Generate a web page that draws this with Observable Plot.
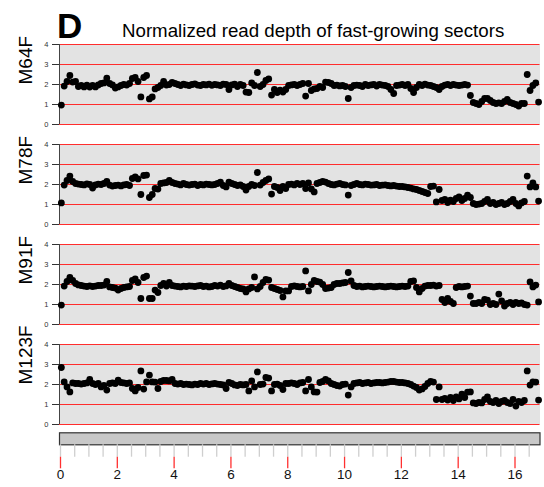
<!DOCTYPE html>
<html><head><meta charset="utf-8">
<script src="https://cdn.jsdelivr.net/npm/d3@7"></script>
<script src="https://cdn.jsdelivr.net/npm/@observablehq/plot@0.6"></script>
<style>
html,body{margin:0;padding:0;background:#fff;}
#wrap{position:relative;width:544px;height:487px;font-family:"Liberation Sans",Arial,Helvetica,sans-serif;}
#panel-letter{position:absolute;left:57px;top:8.3px;font-size:35px;font-weight:bold;line-height:1;color:#000;}
#title{position:absolute;left:122px;top:21.5px;font-size:18.7px;line-height:1;white-space:nowrap;color:#000;}
svg{display:block;}
</style></head><body>
<div id="wrap">
<div id="charts"></div>
<div id="panel-letter">D</div>
<div id="title">Normalized read depth of fast-growing sectors</div>
</div>
<script>
const samples = ["M64F", "M78F", "M91F", "M123F"];
const yTicks = [0, 1, 2, 3, 4];
const xDomain = [-0.035, 16.88];
const majorTicks = [0, 2, 4, 6, 8, 10, 12, 14, 16];
const minorTicks = [0,0.5,1,1.5,2,2.5,3,3.5,4,4.5,5,5.5,6,6.5,7,7.5,8,8.5,9,9.5,10,10.5,11,11.5,12,12.5,13,13.5,14,14.5,15,15.5,16,16.5];

const positions = [
0.03,0.13,0.23,0.33,0.43,0.53,0.63,0.73,0.83,0.93,
1.03,1.13,1.23,1.33,1.43,1.53,1.63,1.73,1.83,1.93,
2.03,2.13,2.23,2.33,2.43,2.53,2.63,2.73,2.83,2.93,
3.03,3.13,3.23,3.33,3.43,3.53,3.63,3.73,3.83,3.93,
4.03,4.13,4.23,4.33,4.43,4.53,4.63,4.73,4.83,4.93,
5.03,5.13,5.23,5.33,5.43,5.53,5.63,5.73,5.83,5.93,
6.03,6.13,6.23,6.33,6.43,6.53,6.63,6.73,6.83,6.93,
7.03,7.13,7.23,7.33,7.43,7.53,7.63,7.73,7.83,7.93,
8.03,8.13,8.23,8.33,8.43,8.53,8.63,8.73,8.83,8.93,
9.03,9.13,9.23,9.33,9.43,9.53,9.63,9.73,9.83,9.93,
10.03,10.13,10.23,10.33,10.43,10.53,10.63,10.73,10.83,10.93,
11.03,11.13,11.23,11.33,11.43,11.53,11.63,11.73,11.83,11.93,
12.03,12.13,12.23,12.33,12.43,12.53,12.63,12.73,12.83,12.93,
13.03,13.13,13.23,13.33,13.43,13.53,13.63,13.73,13.83,13.93,
14.03,14.13,14.23,14.33,14.43,14.53,14.63,14.73,14.83,14.93,
15.03,15.13,15.23,15.33,15.43,15.53,15.63,15.73,15.83,15.93,
16.03,16.13,16.23,16.33,16.43,16.53,16.63,16.73,16.83];

const m64f = [
0.97,1.92,2.15,2.45,2.12,2.15,1.9,1.95,1.88,1.97,
1.87,1.95,1.88,1.98,2.05,2.08,2.32,2.05,1.98,1.82,
1.88,1.95,2.0,1.97,2.05,2.3,2.35,2.15,1.38,2.35,
2.45,1.28,1.38,1.78,1.85,1.95,2.15,1.97,2.0,2.1,
2.05,2.0,1.95,2.02,1.98,1.95,2.0,2.03,1.97,1.95,
2.0,1.98,2.02,1.96,2.0,1.98,1.95,2.02,2.0,1.75,
1.98,2.02,1.9,2.0,1.95,1.62,1.6,2.08,1.95,2.6,
1.9,2.0,2.2,2.28,1.47,1.75,1.6,1.72,1.62,1.75,
1.95,1.98,2.0,1.95,2.0,2.05,1.42,2.05,1.7,1.78,
1.8,1.9,1.85,2.12,2.1,2.05,1.95,1.97,1.93,1.95,
1.9,1.3,1.85,1.95,1.97,1.95,1.9,2.0,1.95,1.98,
2.0,1.92,2.0,1.97,1.95,1.9,1.75,1.55,1.95,1.97,
2.0,1.95,2.0,1.8,1.6,1.85,2.0,1.95,2.02,1.97,
1.95,1.9,1.85,1.75,1.9,1.97,2.0,1.95,2.0,1.97,
1.95,1.97,2.0,1.97,1.45,1.1,1.05,1.0,1.15,1.3,
1.3,1.2,1.1,1.05,1.08,1.05,1.15,1.25,1.1,1.05,
1.0,0.92,1.05,1.05,2.5,1.7,1.95,2.08,1.12];

const m78f = [
1.08,1.97,2.2,2.42,2.15,2.05,2.02,2.0,1.98,2.03,
2.0,1.82,1.98,2.02,2.0,2.05,2.15,1.97,1.92,1.95,
1.97,1.93,1.98,2.0,1.95,2.3,2.38,2.28,1.5,2.45,
2.47,1.35,1.5,1.8,1.77,2.05,2.08,2.1,2.2,2.1,
2.05,2.02,1.98,2.05,2.0,1.97,2.0,2.02,1.95,2.0,
1.98,2.02,2.0,1.98,2.0,2.05,2.12,1.95,1.88,2.12,
2.05,2.0,1.95,1.98,1.9,1.72,1.9,2.0,1.95,2.6,
1.97,2.1,2.2,2.28,1.52,1.9,1.85,1.7,1.9,1.8,
2.0,2.02,1.98,2.05,2.0,2.05,1.8,2.08,1.78,1.63,
2.05,2.1,2.15,2.12,2.05,2.0,1.98,2.02,2.05,2.0,
1.98,1.47,1.95,2.0,2.05,2.0,1.98,2.02,2.0,1.97,
1.98,2.0,1.95,1.97,1.98,1.95,1.93,1.95,1.92,1.9,
1.9,1.88,1.85,1.82,1.78,1.75,1.7,1.65,1.6,1.55,
1.9,1.92,1.13,1.75,1.2,1.25,1.1,1.22,1.15,1.3,
1.38,1.2,1.3,1.47,1.35,1.05,1.0,1.02,1.05,1.15,
1.25,1.05,1.1,1.0,1.05,1.1,1.0,1.05,1.15,1.25,
1.05,0.93,1.08,1.15,2.42,1.88,2.08,1.88,1.17];

const m91f = [
0.97,1.92,2.15,2.35,2.2,2.05,1.98,1.95,1.92,1.9,
1.93,1.9,1.92,1.95,1.95,1.97,2.15,1.88,1.85,1.82,
1.72,1.8,1.85,1.88,1.9,2.2,2.28,2.1,1.3,2.35,
2.42,1.3,1.3,1.72,1.6,1.95,2.05,1.92,2.1,1.95,
1.92,1.9,1.88,1.92,1.9,1.93,1.92,1.9,1.93,1.95,
1.9,1.92,1.88,1.9,1.95,1.92,1.97,1.9,1.93,2.05,
1.95,1.9,1.85,1.8,1.78,1.63,1.78,1.85,2.38,1.78,
1.9,2.1,2.25,2.22,1.85,1.8,1.75,1.7,1.38,1.68,
1.68,1.9,1.93,1.9,1.88,1.9,2.68,1.68,2.0,2.2,
2.15,2.12,2.0,1.8,1.82,1.85,2.0,2.05,2.05,2.08,
2.1,2.6,2.18,1.95,1.9,1.92,1.88,1.9,1.92,1.9,
1.88,1.9,1.92,1.9,1.88,1.9,1.92,1.9,1.88,1.9,
1.92,1.9,1.92,2.15,2.18,1.85,1.63,1.8,1.92,1.95,
1.95,1.97,1.92,1.95,1.25,1.1,1.3,1.15,1.05,1.85,
1.9,1.88,1.9,1.92,1.42,1.05,1.05,1.1,1.05,1.25,
1.22,1.0,1.05,1.0,1.52,1.18,0.92,1.05,1.1,1.0,
1.1,1.05,1.08,1.0,0.97,2.13,1.88,1.97,1.13];

const m123f = [
2.85,2.13,1.88,1.63,2.08,2.05,2.05,2.02,2.05,2.08,
2.25,2.05,2.0,2.05,1.88,1.95,1.72,2.05,2.08,2.05,
2.22,2.1,2.08,2.05,2.08,1.8,1.68,1.85,2.68,1.77,
2.13,2.47,2.13,2.12,1.8,2.15,2.2,2.2,2.18,2.25,
2.05,2.02,2.05,2.0,2.02,2.0,1.98,2.02,2.0,2.05,
2.02,2.05,2.0,2.03,2.05,2.02,2.0,1.98,1.8,2.1,
2.05,1.98,1.95,2.0,1.98,2.0,1.68,2.18,1.88,2.63,
2.0,2.02,2.35,2.32,1.68,2.0,2.02,1.95,1.75,2.05,
2.05,2.08,2.05,2.0,2.08,2.1,1.68,2.25,1.88,1.63,
1.62,2.1,2.15,2.25,2.18,2.05,2.0,1.95,1.92,2.0,
2.02,1.47,1.88,2.05,2.08,2.1,2.05,2.08,2.1,2.05,
2.08,2.1,2.1,2.08,2.1,2.12,2.15,2.15,2.12,2.1,
2.1,2.08,2.05,2.0,1.92,1.85,1.72,1.78,1.9,2.05,
2.15,2.12,1.25,1.88,1.25,1.3,1.22,1.35,1.2,1.38,
1.28,1.52,1.35,1.62,1.63,1.08,1.05,1.1,1.08,1.25,
1.38,1.15,1.1,1.2,1.05,1.15,1.2,1.1,1.05,1.25,
0.92,1.15,1.1,1.2,2.68,1.97,2.13,2.12,1.22];

const series = {M64F: m64f, M78F: m78f, M91F: m91f, M123F: m123f};
const rows = samples.flatMap(s => series[s].map((v, i) => ({sample: s, pos: positions[i], depth: v})));

const font = '"Liberation Sans", Arial, Helvetica, sans-serif';

const main = Plot.plot({
  width: 544, height: 424,
  marginTop: 44, marginBottom: 0, marginLeft: 59, marginRight: 4.5,
  style: {fontFamily: font, fontSize: "7.5px", color: "#333", background: "transparent", overflow: "visible"},
  x: {domain: xDomain, axis: null},
  y: {domain: [0, 4], ticks: yTicks, tickSize: 7, tickPadding: 4, label: null, tickFormat: d => String(d)},
  fy: {domain: samples, axis: null, paddingInner: 0.2, paddingOuter: 0, round: false, label: null},
  marks: [
    Plot.frame({fill: "#e3e3e3", stroke: "none"}),
    Plot.ruleY(yTicks, {stroke: "#ff2d2d", strokeWidth: 1.2}),
    Plot.ruleX([xDomain[0]], {stroke: "#444", strokeWidth: 1}),
    Plot.dot(rows, {x: "pos", y: "depth", fy: "sample", r: 3.4, fill: "#000", stroke: "none"}),
    Plot.text(samples, {fy: d => d, text: d => d, frameAnchor: "left", dx: -34, rotate: -90, fontSize: 19, fill: "#000", lineAnchor: "middle"})
  ]
});

const axisPlot = Plot.plot({
  width: 544, height: 63,
  marginTop: 0, marginBottom: 0, marginLeft: 59, marginRight: 4.5,
  style: {fontFamily: font, fontSize: "13.5px", color: "#000", background: "transparent", overflow: "visible"},
  x: {domain: xDomain, axis: null},
  marks: [
    Plot.frame({fill: "#c8c8c8", stroke: "#333", strokeWidth: 1.2, insetTop: 8.3, insetBottom: 42.7}),
    Plot.ruleX(minorTicks, {stroke: "#cfcfcf", strokeWidth: 1.3, insetTop: 20.3, insetBottom: 30.3}),
    Plot.ruleX(majorTicks, {stroke: "#ff3030", strokeWidth: 1.3, insetTop: 32.7, insetBottom: 18.7}),
    Plot.text(majorTicks, {x: d => d, text: d => String(d), frameAnchor: "bottom", lineAnchor: "middle", dy: -12.7, fontSize: 13.5, fill: "#111"})
  ]
});

const charts = document.getElementById("charts");
charts.appendChild(main);
charts.appendChild(axisPlot);
</script>
</body></html>
